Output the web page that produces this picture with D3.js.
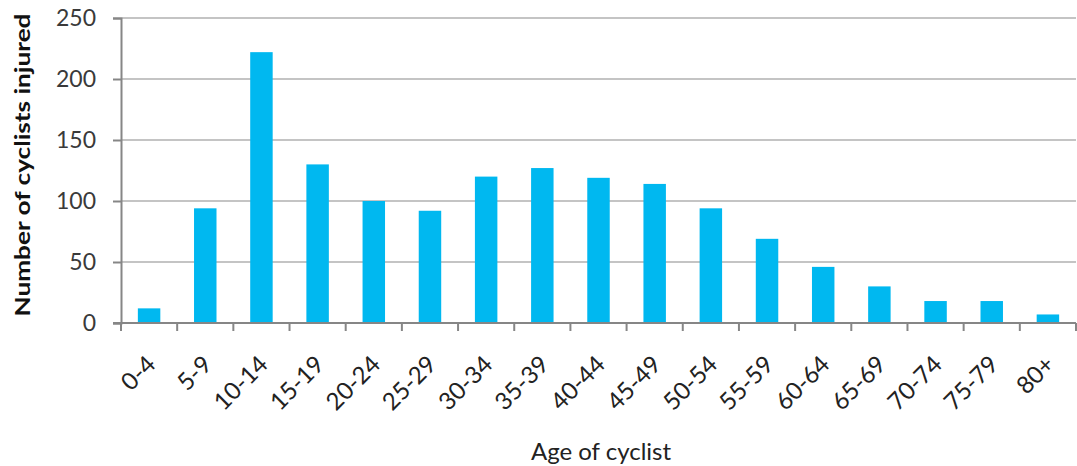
<!DOCTYPE html>
<html>
<head>
<meta charset="utf-8">
<script src="https://cdn.jsdelivr.net/npm/d3@7"></script>
<style>
  body { margin: 0; background: #fff; }
  text { font-family: Lato, "Open Sans", sans-serif; }
</style>
</head>
<body>
<div id="chart"></div>
<script>
// age groups and number of injured cyclists
var ageGroups = ["0-4", "5-9", "10-14", "15-19", "20-24", "25-29", "30-34", "35-39", "40-44",
                 "45-49", "50-54", "55-59", "60-64", "65-69", "70-74", "75-79", "80+"];
var injured = [12, 94, 222, 130, 100, 92, 120, 127, 119, 114, 94, 69, 46, 30, 18, 18, 7];
var yTicks = [0, 50, 100, 150, 200, 250];

var width = 1077, height = 466;
// plot edges (note: "top" is reserved on window, so use plot* names)
var plotLeft = 121, plotRight = 1076, plotTop = 18, plotBottom = 323;

var svg = d3.select("#chart").append("svg")
    .attr("width", width)
    .attr("height", height);

var x = d3.scaleBand()
    .domain(ageGroups)
    .range([plotLeft, plotRight])
    .paddingInner(0.6)
    .paddingOuter(0.3);

var y = d3.scaleLinear()
    .domain([0, 250])
    .range([plotBottom, plotTop]);

// horizontal gridlines
svg.append("g")
    .selectAll("line")
    .data(yTicks.slice(1))
    .enter().append("line")
    .attr("x1", plotLeft)
    .attr("x2", plotRight)
    .attr("y1", function (d) { return y(d); })
    .attr("y2", function (d) { return y(d); })
    .style("stroke", "#c4c4c4")
    .style("stroke-width", 2);

// bars
svg.append("g")
    .selectAll("rect")
    .data(injured)
    .enter().append("rect")
    .attr("x", function (d, i) { return x(ageGroups[i]); })
    .attr("y", function (d) { return y(d); })
    .attr("width", x.bandwidth())
    .attr("height", function (d) { return y(0) - y(d); })
    .style("fill", "#00b8f0");

// y axis
var yAxis = svg.append("g")
    .attr("transform", "translate(" + plotLeft + ",0)")
    .call(d3.axisLeft(y).tickValues(yTicks).tickSize(8).tickPadding(17));
yAxis.selectAll("path, line").style("stroke", "#868686").style("stroke-width", 2);
yAxis.selectAll("text")
    .style("font-size", "23px")
    .style("fill", "#3a3a3a");

// x axis: ticks on the band edges, labels rotated
var xAxis = svg.append("g")
    .attr("transform", "translate(0," + plotBottom + ")");
xAxis.append("line")
    .attr("x1", plotLeft - 8).attr("x2", plotRight)
    .style("stroke", "#868686").style("stroke-width", 2);
var edges = ageGroups.map(function (d) { return x(d) - x.step() * 0.3; }).concat([plotRight]);
xAxis.selectAll(".tick")
    .data(edges)
    .enter().append("line")
    .attr("x1", function (d) { return d; })
    .attr("x2", function (d) { return d; })
    .attr("y1", 0).attr("y2", 8)
    .style("stroke", "#868686").style("stroke-width", 2);
xAxis.selectAll(".lbl")
    .data(ageGroups)
    .enter().append("text")
    .attr("transform", function (d) {
        return "translate(" + (x(d) + x.bandwidth() / 2 + 8) + ",43) rotate(-45)";
    })
    .attr("text-anchor", "end")
    .style("font-size", "24px")
    .style("fill", "#222")
    .text(function (d) { return d; });

// axis titles
svg.append("text")
    .attr("transform", "translate(30,165) rotate(-90)")
    .attr("text-anchor", "middle")
    .style("font-size", "21px")
    .style("font-weight", "bold")
    .style("fill", "#111")
    .attr("textLength", 303)
    .attr("lengthAdjust", "spacingAndGlyphs")
    .text("Number of cyclists  injured");

svg.append("text")
    .attr("x", 601)
    .attr("y", 460)
    .attr("text-anchor", "middle")
    .style("font-size", "24px")
    .style("fill", "#222")
    .text("Age of cyclist");
</script>
</body>
</html>
